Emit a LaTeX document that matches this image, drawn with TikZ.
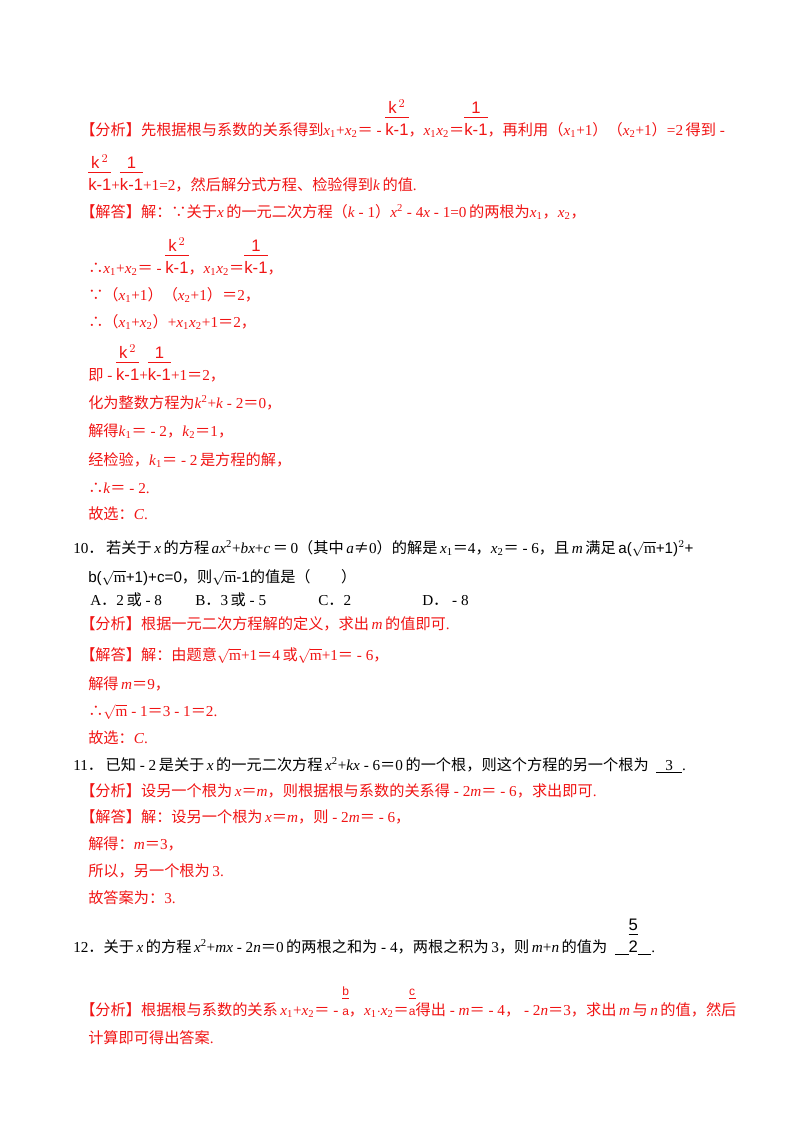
\documentclass[tikz,border=0pt]{standalone}
\usepackage{fontspec}
\setmainfont{Liberation Serif}
\newfontfamily\cjk{Noto Sans CJK SC}
\newfontfamily\frf{Liberation Sans}
\newcommand\zh[1]{{\cjk #1}}
\newcommand\vi[1]{\textit{#1}}
\newcommand\sbs[1]{\textsubscript{#1}}
\newcommand\sps[1]{\textsuperscript{#1}}
\newcommand\fr[2]{{\frf\fontsize{12.5}{13}\selectfont\begin{tabular}[b]{@{}c@{}}#1\\[-1pt]\hline\rule{0pt}{13pt}#2\end{tabular}}}
\newcommand\sq{$\sqrt{\mathrm{m}}$}
\definecolor{ans}{RGB}{240,20,20}
\begin{document}
\begin{tikzpicture}[x=0.75pt,y=-0.75pt,
  every node/.style={anchor=base west,inner sep=0pt,font=\fontsize{11.4}{12}\selectfont},
  red/.style={text=ans},blk/.style={text=black}]
\useasboundingbox (0,0) rectangle (800,1132);
\node[red] (l1) at (80,135) {\zh{【分析】先根据根与系数的关系得到}\vi{x}\sbs1+\vi{x}\sbs2\zh{＝} - \fr{k$^{\,2}$}{k-1}\zh{，}\vi{x}\sbs1\vi{x}\sbs2\zh{＝}\fr{1}{k-1}\zh{，再利用（}\vi{x}\sbs1+1\zh{）（}\vi{x}\sbs2+1\zh{）}=2\,\zh{得到} -};
\node[red] (l2) at (88,190) {\fr{k$^{\,2}$}{k-1}+\fr{1}{k-1}+1=2\zh{，然后解分式方程、检验得到}\vi{k}\,\zh{的值}.};
\node[red] (l3) at (80,217) {\zh{【解答】解：∵关于}\vi{x}\,\zh{的一元二次方程（}\vi{k} - 1\zh{）}\vi{x}\sps2 - 4\vi{x} - 1=0\,\zh{的两根为}\vi{x}\sbs1\zh{，}\vi{x}\sbs2\zh{，}};
\node[red] (l4) at (88,273) {\zh{∴}\vi{x}\sbs1+\vi{x}\sbs2\zh{＝} - \fr{k$^{\,2}$}{k-1}\zh{，}\vi{x}\sbs1\vi{x}\sbs2\zh{＝}\fr{1}{k-1}\zh{，}};
\node[red] (l5) at (88,300) {\zh{∵（}\vi{x}\sbs1+1\zh{）（}\vi{x}\sbs2+1\zh{）＝}2\zh{，}};
\node[red] (l6) at (88,327) {\zh{∴（}\vi{x}\sbs1+\vi{x}\sbs2\zh{）}+\vi{x}\sbs1\vi{x}\sbs2+1\zh{＝}2\zh{，}};
\node[red] (l7) at (88,380) {\zh{即} - \fr{k$^{\,2}$}{k-1}+\fr{1}{k-1}+1\zh{＝}2\zh{，}};
\node[red] (l8) at (88,408) {\zh{化为整数方程为}\vi{k}\sps2+\vi{k} - 2\zh{＝}0\zh{，}};
\node[red] (l9) at (88,436) {\zh{解得}\vi{k}\sbs1\zh{＝} - 2\zh{，}\vi{k}\sbs2\zh{＝}1\zh{，}};
\node[red] (l10) at (88,465) {\zh{经检验，}\vi{k}\sbs1\zh{＝} - 2\,\zh{是方程的解，}};
\node[red] (l11) at (88,493) {\zh{∴}\vi{k}\zh{＝} - 2.};
\node[red] (l12) at (88,519) {\zh{故选：}\vi{C}.};
\node[blk] (q10) at (73,553) {10\zh{．\,若关于}\,\vi{x}\,\zh{的方程}\,\vi{ax}\sps2+\vi{bx}+\vi{c}\,\zh{＝}\,0\zh{（其中}\,\vi{a}\zh{≠}0\zh{）的解是}\,\vi{x}\sbs1\zh{＝}4\zh{，}\vi{x}\sbs2\zh{＝} - 6\zh{，且}\,\vi{m}\,\zh{满足}\,{\frf a(\sq+1)$^2$+}};
\node[blk] (q10b) at (88,582) {{\frf b(\sq+1)+c=0}\zh{，则}{\frf\sq-1}\zh{的值是（\qquad）}};
\node[blk] (qa) at (90,605) {A\zh{．}2\,\zh{或} - 8};
\node[blk] (qb) at (195,605) {B\zh{．}3\,\zh{或} - 5};
\node[blk] (qc) at (318,605) {C\zh{．}2};
\node[blk] (qd) at (422,605) {D\zh{．} - 8};
\node[red] (m1) at (80,629) {\zh{【分析】根据一元二次方程解的定义，求出}\,\vi{m}\,\zh{的值即可}.};
\node[red] (m2) at (80,660) {\zh{【解答】解：由题意}\sq+1\zh{＝}4\,\zh{或}\sq+1\zh{＝} - 6\zh{，}};
\node[red] (m3) at (88,689) {\zh{解得}\,\vi{m}\zh{＝}9\zh{，}};
\node[red] (m4) at (88,716) {\zh{∴}\sq\ - 1\zh{＝}3 - 1\zh{＝}2.};
\node[red] (m5) at (88,743) {\zh{故选：}\vi{C}.};
\node[blk] (q11) at (73,770) {11\zh{．\,已知} - 2\,\zh{是关于}\,\vi{x}\,\zh{的一元二次方程}\,\vi{x}\sps2+\vi{kx} - 6\zh{＝}0\,\zh{的一个根，则这个方程的另一个根为}\ \ \underline{\hspace{0.6em}3\hspace{0.6em}}.};
\node[red] (n1) at (80,796) {\zh{【分析】设另一个根为}\,\vi{x}\zh{＝}\vi{m}\zh{，则根据根与系数的关系得} - 2\vi{m}\zh{＝} - 6\zh{，求出即可}.};
\node[red] (n2) at (80,822) {\zh{【解答】解：设另一个根为}\,\vi{x}\zh{＝}\vi{m}\zh{，则} - 2\vi{m}\zh{＝} - 6\zh{，}};
\node[red] (n3) at (88,849) {\zh{解得：}\vi{m}\zh{＝}3\zh{，}};
\node[red] (n4) at (88,876) {\zh{所以，另一个根为}\,3.};
\node[red] (n5) at (88,903) {\zh{故答案为：}3.};
\node[blk] (q12) at (73,952) {12\zh{．关于}\,\vi{x}\,\zh{的方程}\,\vi{x}\sps2+\vi{mx} - 2\vi{n}\zh{＝}0\,\zh{的两根之和为} - 4\zh{，两根之积为}\,3\zh{，则}\,\vi{m}+\vi{n}\,\zh{的值为}\ \ \underline{\hspace{0.9em}}\fr{5}{2}\underline{\hspace{0.9em}}.};
\node[red] (p1) at (80,1015) {\zh{【分析】根据根与系数的关系}\,\vi{x}\sbs1+\vi{x}\sbs2\zh{＝} - {\frf\fontsize{9}{10}\selectfont\begin{tabular}[b]{@{}c@{}}b\\[-1pt]\hline\rule{0pt}{12pt}a\end{tabular}}\zh{，}\vi{x}\sbs1$\cdot$\vi{x}\sbs2\zh{＝}{\frf\fontsize{9}{10}\selectfont\begin{tabular}[b]{@{}c@{}}c\\[-1pt]\hline\rule{0pt}{12pt}a\end{tabular}}\zh{得出} - \vi{m}\zh{＝} - 4\zh{，} - 2\vi{n}\zh{＝}3\zh{，求出}\,\vi{m}\,\zh{与}\,\vi{n}\,\zh{的值，然后}};
\node[red] (p2) at (88,1043) {\zh{计算即可得出答案}.};
\end{tikzpicture}
\end{document}
